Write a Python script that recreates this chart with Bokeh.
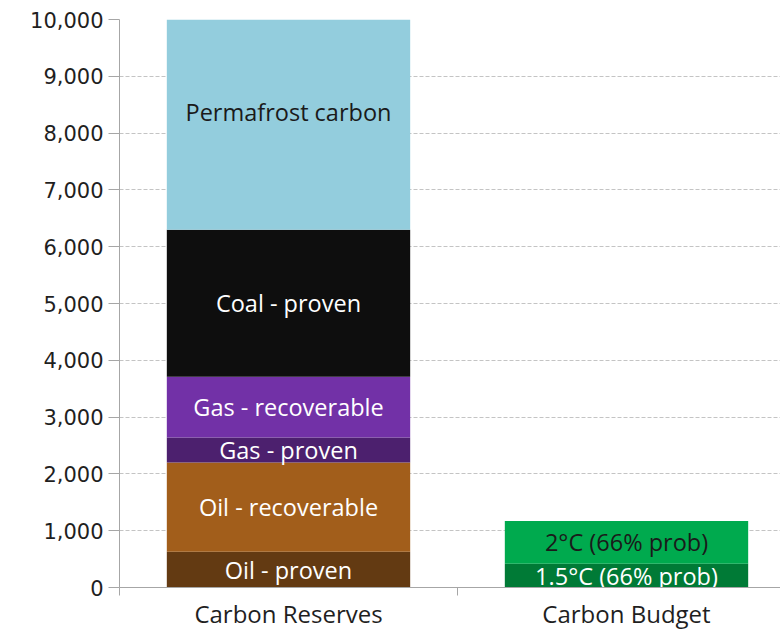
from bokeh.plotting import figure
from bokeh.models import ColumnDataSource, Range1d, FixedTicker, NumeralTickFormatter
from bokeh.core.properties import value
from bokeh.embed import file_html
from bokeh.resources import INLINE

# ---- data ----
categories = ["Carbon Reserves", "Carbon Budget"]

reserve_labels = ["Oil - proven", "Oil - recoverable", "Gas - proven",
                  "Gas - recoverable", "Coal - proven", "Permafrost carbon"]
reserve_values = [630, 1570, 440, 1070, 2590, 4150]
reserve_colors = ["#633A12", "#A25E1B", "#4C206E", "#7231A7", "#0E0E0E", "#93CDDD"]
reserve_text_colors = ["white", "white", "white", "white", "white", "#1a1a1a"]

budget_labels = ["1.5°C (66% prob)", "2°C (66% prob)"]
budget_values = [420, 750]
budget_colors = ["#007A36", "#00AA4E"]
budget_text_colors = ["white", "#1a1a1a"]

y_ticks = list(range(0, 10001, 1000))

# ---- build stacked segments ----
xs, bottoms, tops, colors, labels, tcolors = [], [], [], [], [], []
for ci, (vals, labs, cols, tcs) in enumerate([
        (reserve_values, reserve_labels, reserve_colors, reserve_text_colors),
        (budget_values, budget_labels, budget_colors, budget_text_colors)]):
    base = 0
    for v, lab, c, tc in zip(vals, labs, cols, tcs):
        xs.append(ci + 0.5)
        bottoms.append(base)
        tops.append(base + v)
        colors.append(c)
        labels.append(lab)
        tcolors.append(tc)
        base += v

src = ColumnDataSource(dict(
    x=xs, bottom=bottoms, top=tops, color=colors, label=labels, tcolor=tcolors,
    ymid=[(b + t) / 2 for b, t in zip(bottoms, tops)],
))

W, H = 780, 632
LEFT = 119
cat_px = 338
p = figure(width=W, height=H, output_backend="svg", toolbar_location=None,
           x_range=Range1d(0, (W - LEFT) / cat_px), y_range=Range1d(0, 10000),
           min_border_left=LEFT, min_border_right=0, min_border_top=19,
           min_border_bottom=45)
p.outline_line_color = None
p.background_fill_color = "white"

p.vbar(x="x", bottom="bottom", top="top", width=0.72, fill_color="color",
       line_color=None, source=src)

p.text(x="x", y="ymid", text="label", text_color="tcolor", source=src,
       text_align="center", text_baseline="middle",
       text_font=value("Open Sans"), text_font_size="23.5px")

# grid
p.xgrid.visible = False
p.ygrid.ticker = FixedTicker(ticks=y_ticks)
p.ygrid.grid_line_color = "#C4C4C4"
p.ygrid.grid_line_dash = "4 2"
p.ygrid.grid_line_width = 1

# y axis
ya = p.yaxis[0]
ya.ticker = FixedTicker(ticks=y_ticks)
ya.formatter = NumeralTickFormatter(format="0,0")
ya.axis_line_color = "#A6A6A6"
ya.major_tick_line_color = "#A6A6A6"
ya.major_tick_out = 11
ya.major_tick_in = 0
ya.minor_tick_line_color = None
ya.major_label_standoff = 5
ya.major_label_text_font = "DejaVu Sans"
ya.major_label_text_font_size = "21px"
ya.major_label_text_color = "#1f1f1f"

# x axis
xa = p.xaxis[0]
xa.ticker = FixedTicker(ticks=[i + 0.5 for i in range(len(categories))],
                        minor_ticks=[float(i) for i in range(len(categories) + 1)])
xa.major_label_overrides = {i + 0.5: c for i, c in enumerate(categories)}
xa.axis_line_color = "#A6A6A6"
xa.major_tick_line_color = None
xa.major_tick_out = 0
xa.major_tick_in = 0
xa.minor_tick_line_color = "#A6A6A6"
xa.minor_tick_out = 8
xa.minor_tick_in = 0
xa.major_label_standoff = 1
xa.major_label_text_font = "Open Sans"
xa.major_label_text_font_size = "24px"
xa.major_label_text_color = "#1f1f1f"

open("out.html", "w").write(file_html(p, INLINE))
